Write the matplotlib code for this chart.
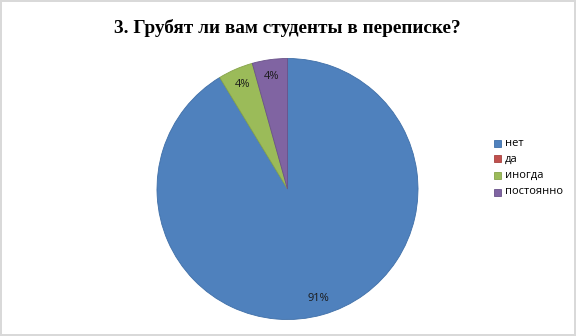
import matplotlib
matplotlib.use("Agg")
import matplotlib.pyplot as plt

# data
categories = ["нет", "да", "иногда", "постоянно"]
counts = [21, 0, 1, 1]
colors = ["#4F81BD", "#C0504D", "#9BBB59", "#8064A2"]
edges = ["#3F6FA8", "#A84340", "#86A34A", "#6A5289"]
title = "3. Грубят ли вам студенты в переписке?"

fig = plt.figure(figsize=(5.76, 3.36), dpi=100)
fig.patch.set_edgecolor("#D9D9D9")
fig.patch.set_linewidth(1.5)

ax = fig.add_axes([157/576, 16/336, 261/576, 262/336])

def fmt(p):
    return "%d%%" % round(p) if p > 0.5 else ""

wedges, texts, autotexts = ax.pie(counts, colors=colors, startangle=90, counterclock=False,
                                  autopct=fmt, pctdistance=0.87, radius=1,
                                  wedgeprops=dict(linewidth=0.6))
for w, ec, c in zip(wedges, edges, counts):
    w.set_edgecolor(ec)
    if c == 0:
        w.set_linewidth(0)
for t in autotexts:
    t.set_fontsize(8)
    t.set_family("Open Sans")
    t.set_color("#1a1a1a")
ax.set_xlim(-1, 1)
ax.set_ylim(-1, 1)
ax.set_aspect("equal")

fig.text(0.499, 1 - 28/336, title, ha="center", va="center", fontsize=13.9,
         fontweight="bold", family="Liberation Serif")

# legend
leg_y = [143, 159, 175, 192]
for cat, col, ec, y in zip(categories, colors, edges, leg_y):
    fig.patches.append(plt.Rectangle((494/576, 1 - (y + 3.5)/336), 7/576, 7/336,
                                     transform=fig.transFigure, facecolor=col,
                                     edgecolor=ec, linewidth=0.6))
    fig.text(505/576, 1 - y/336, cat, ha="left", va="center", fontsize=8,
             family="Open Sans")

fig.savefig("out.png", dpi=100)
